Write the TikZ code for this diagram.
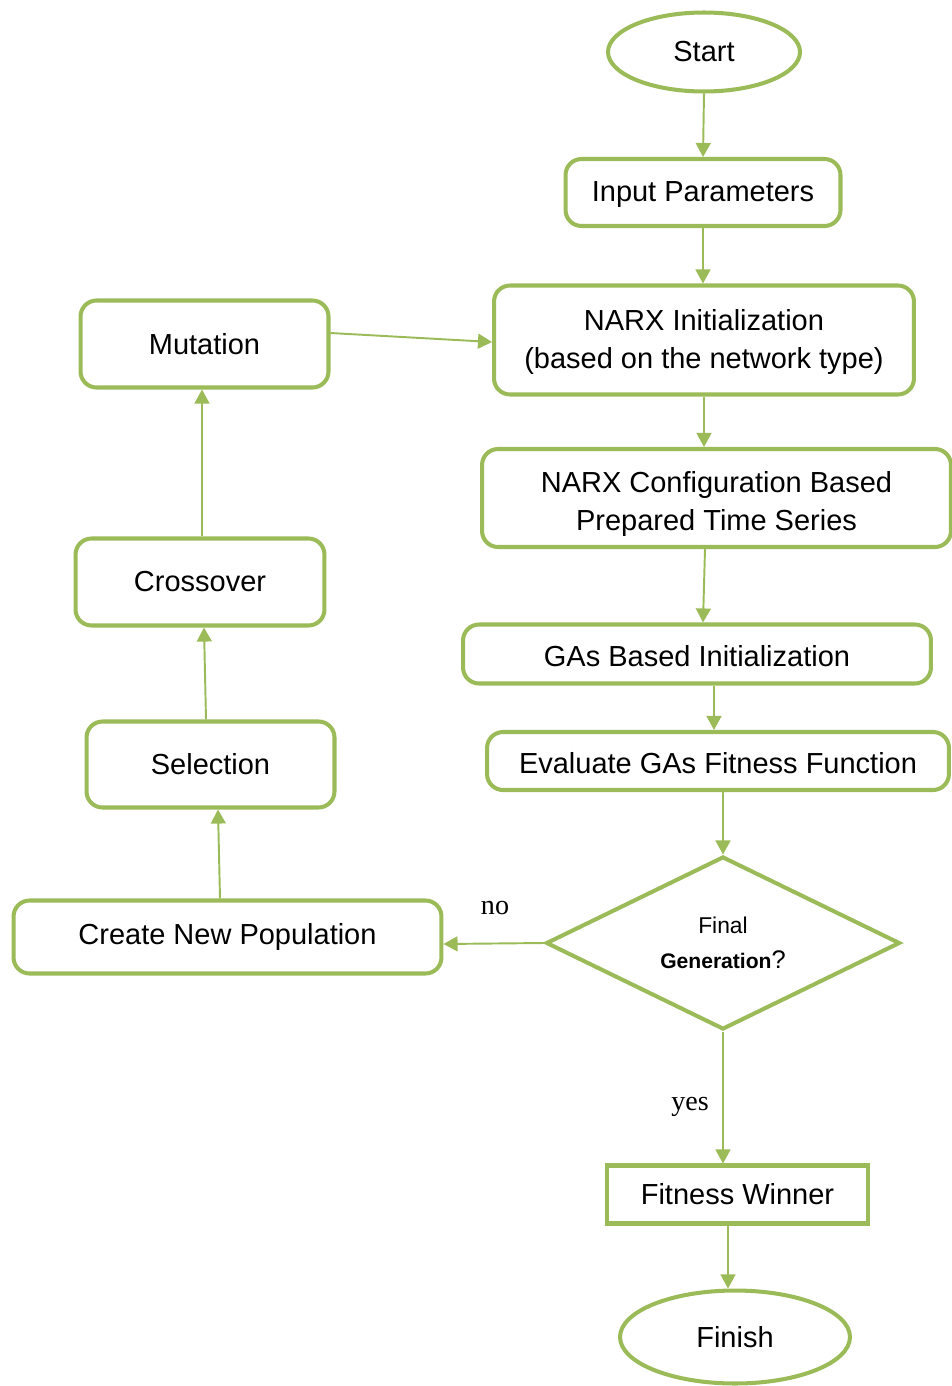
\documentclass[tikz,border=0pt]{standalone}
\usepackage{fontspec}
\setmainfont{Liberation Sans}
\newfontfamily\timesfont{Liberation Serif}
\usetikzlibrary{shapes.geometric,arrows.meta}
\definecolor{olive}{HTML}{9BBB59}
\begin{document}
\begin{tikzpicture}[x=0.02cm,y=-0.02cm,
  every node/.style={font=\fontsize{16.5}{21.5}\selectfont, text=black},
  roundbox/.style={draw=olive, line width=2.3pt, rounded corners=0.32cm, align=center, inner sep=0pt},
  squarebox/.style={draw=olive, line width=2.3pt, align=center, inner sep=0pt},
  oval/.style={draw=olive, line width=2.3pt, ellipse, inner sep=0pt},
  decision/.style={draw=olive, line width=2.3pt, diamond, aspect=2, inner sep=0pt, align=center},
  flow/.style={draw=olive, line width=1.1pt, -{Triangle[length=8pt,width=8.5pt]}},
  edgelabel/.style={font=\timesfont\fontsize{16}{18}\selectfont}
]
\useasboundingbox (0,0) rectangle (951,1386);

% main column
\node[oval, minimum width=3.84cm, minimum height=1.58cm] (start) at (704,52) {Start};
\node[roundbox, minimum width=5.5cm, minimum height=1.34cm] (input) at (703,192.5) {\rule{0pt}{14pt}Input Parameters};
\node[roundbox, minimum width=8.4cm, minimum height=2.18cm] (init) at (704,340) {\rule{0pt}{14.5pt}NARX Initialization\\(based on the network type)};
\node[roundbox, minimum width=9.38cm, minimum height=1.96cm] (config) at (716.5,498) {\rule{0pt}{19pt}NARX Configuration Based\\Prepared Time Series};
\node[roundbox, minimum width=9.36cm, minimum height=1.18cm] (gasinit) at (697,654) {\rule{0pt}{14pt}GAs Based Initialization};
\node[roundbox, minimum width=9.24cm, minimum height=1.16cm] (eval) at (718,761) {\rule{0pt}{14pt}Evaluate GAs Fitness Function};
\node[decision, minimum width=7.08cm, minimum height=3.46cm, font=\fontsize{13}{20}\selectfont] (final) at (723,943)
  {Final\\{\fontsize{12}{20}\selectfont\bfseries Generation}{\fontsize{14.5}{20}\selectfont ?}};
\node[squarebox, minimum width=5.22cm, minimum height=1.16cm] (winner) at (737.5,1194.5) {Fitness Winner};
\node[oval, minimum width=4.6cm, minimum height=1.86cm] (finish) at (735,1337) {Finish};

% genetic loop column
\node[roundbox, minimum width=4.96cm, minimum height=1.74cm] (mutation) at (204.5,344) {Mutation};
\node[roundbox, minimum width=4.98cm, minimum height=1.74cm] (crossover) at (200,582) {Crossover};
\node[roundbox, minimum width=4.96cm, minimum height=1.72cm] (selection) at (210.5,764.5) {Selection};
\node[roundbox, minimum width=8.56cm, minimum height=1.46cm] (newpop) at (227.5,937) {Create New Population};

% branch labels
\node[edgelabel] (nolabel) at (495,908) {no};
\node[edgelabel] (yeslabel) at (690,1107) {yes};

% connectors
\draw[flow] (start.south) -- (input.north);
\draw[flow] (input.south) -- (input.south |- init.north);
\draw[flow] (init.south) -- (init.south |- config.north);
\draw[flow] ([xshift=-0.23cm]config.south) -- ([xshift=0.12cm]gasinit.north);
\draw[flow] ([xshift=0.34cm]gasinit.south) -- ([xshift=0.34cm]gasinit.south |- eval.north);
\draw[flow] (eval.south -| final.north) -- (final.north);
\draw[flow] (final.west) -- ([yshift=-0.14cm]newpop.east);
\draw[flow] (final.south) -- (final.south |- winner.north);
\draw[flow] ([xshift=-0.19cm]winner.south) -- ([xshift=-0.19cm]winner.south |- finish.north);
\draw[flow] ([xshift=-0.15cm]newpop.north) -- ([xshift=0.15cm]selection.south);
\draw[flow] ([xshift=-0.09cm]selection.north) -- ([xshift=0.08cm]crossover.south);
\draw[flow] ([xshift=0.04cm]crossover.north) -- ([xshift=0.04cm]crossover.north |- mutation.south);
\draw[flow] ([yshift=0.22cm]mutation.east) -- ([yshift=-0.04cm]init.west);
\end{tikzpicture}
\end{document}
